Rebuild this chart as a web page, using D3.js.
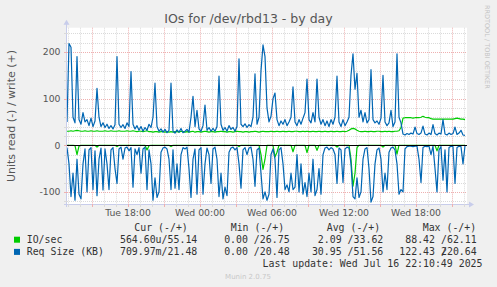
<!DOCTYPE html>
<html><head><meta charset="utf-8">
<script src="https://cdn.jsdelivr.net/npm/d3@7"></script>
<style>body{margin:0;background:#f0f0f0;}svg{display:block;}</style>
</head><body><svg id="c" width="497" height="287"></svg>
<script>
const title = "IOs for /dev/rbd13 - by day";
const yLabel = "Units read (-) / write (+)";
const startTime = new Date(2025, 6, 15, 12, 55);
const endTime = new Date(2025, 6, 16, 22, 15);
const stepMinutes = 10;
const yTicks = [-100, 0, 100, 200];
const seriesNames = ["IO/sec", "Req Size (KB)"];
const seriesColors = ["#00cc00", "#0066b3"];
const legendHeaders = ["Cur (-/+)", "Min (-/+)", "Avg (-/+)", "Max (-/+)"];
const ioStats = [["564.60u", "55.14"], ["0.00 ", "26.75"], ["2.09 ", "33.62"], ["88.42 ", "62.11"]];
const reqStats = [["709.97m", "21.48"], ["0.00 ", "20.48"], ["30.95 ", "51.56"], ["122.43 ", "220.64"]];
const lastUpdate = "Last update: Wed Jul 16 22:10:49 2025";
const footer = "Munin 2.0.75";
const watermark = "RRDTOOL / TOBI OETIKER";

// IO/sec write (+)
const ioWrite = [30,30,31,30,31,32,31,30,30,31, 30,30,31,30,30,31,30,30,30,31, 30,30,31,30,30,30,31,30,30,30,
 31,30,30,31,30,29,30,30,29,30, 31,29,29,28,29,29,28,29,29,28, 29,28,29,28,29,29,28,30,29,28,
 29,28,29,30,28,29,29,28,29,30, 29,28,29,29,28,29,29,30,29,29, 28,29,29,28,29,30,29,29,28,29,
 29,28,29,29,30,29,28,29,30,29, 29,29,30,29,29,30,29,29,30,29, 29,30,29,29,30,30,29,29,30,29,
 30,29,29,30,29,29,30,29,29,30, 29,29,30,29,29,30,29,29,30,29, 30,32,35,36,35,32,30,29,29,30,
 29,29,30,29,29,30,30,29,29,30, 29,30,29,29,30,30,31,38,58,59, 59,59,59,58,59,59,59,60,62,60,
 59,59,57,56,56,56,56,56,56,56, 56,56,56,56,57,58,57,56,56,55];
// IO/sec read (-)
const ioRead = [0,0,0,0,1,20,2,0,0,0, 0,0,0,0,0,4,0,0,0,0, 0,0,0,0,0,3,0,0,0,0,
 0,0,0,0,0,0,0,0,0,0, 10,1,0,0,0,0,0,0,0,0, 0,0,3,0,0,0,0,0,0,0,
 0,0,0,0,0,0,0,0,0,0, 0,0,0,0,0,0,0,0,0,0, 0,0,0,0,0,0,3,0,0,0,
 0,0,0,0,0,0,0,20,52,30, 0,0,0,0,25,15,0,0,0,0, 0,0,0,14,0,0,0,0,0,0,
 16,0,0,0,0,11,0,0,0,0, 0,0,0,0,0,4,0,0,0,0, 0,0,30,88,60,5,0,0,0,0,
 0,0,0,0,0,0,0,0,4,0, 0,0,0,0,0,19,0,0,0,0, 0,0,0,0,0,0,0,0,0,0,
 0,0,0,0,0,12,0,0,0,0, 0,0,0,0,0,0,0,0,0,0];
// Req Size write (+)
const reqWrite = [50,218,210,60,48,190,55,45,70,50, 55,42,58,40,52,122,60,40,48,38, 45,36,42,35,44,190,45,38,44,36,
 48,40,158,45,35,42,32,40,30,38, 32,45,38,60,133,40,30,35,28,34, 27,32,133,30,26,33,28,36,27,30,
 34,28,60,105,40,75,35,30,42,86, 32,38,30,36,30,40,148,45,32,38, 30,42,34,38,30,40,185,45,40,46,
 38,44,40,60,153,45,60,160,215,190, 80,50,62,100,112,55,42,52,45,55, 42,50,60,125,50,42,55,45,58,70,
 142,55,48,70,50,142,60,45,55,42, 52,40,55,45,60,148,50,40,55,42, 50,60,150,196,120,154,60,75,50,70,
 48,55,162,55,48,52,45,58,150,50, 42,48,75,40,50,196,60,48,24,22, 25,23,26,24,39,25,23,26,41,24,
 22,26,23,44,25,22,26,24,55,24, 22,26,23,25,39,23,26,32,22,21];
// Req Size read (-)
const reqRead = [5,40,110,60,118,30,105,115,40,8, 100,10,5,95,12,108,30,6,96,8, 40,95,10,5,50,82,8,4,30,6,
 4,12,5,90,8,20,5,60,8,4, 95,10,40,118,70,112,100,15,6,4, 8,30,95,10,92,40,95,20,5,8,
 4,50,112,30,8,105,10,5,105,40, 6,20,82,8,4,30,110,60,115,90, 108,15,6,4,10,5,40,92,10,5,
 20,6,4,30,88,10,6,60,115,100, 118,105,20,8,30,112,10,5,40,95, 85,100,60,95,90,20,100,40,105,80,
 110,60,100,30,108,95,50,105,20,6, 4,10,5,8,20,82,6,10,80,8, 4,6,40,110,115,70,112,100,30,8,
 5,50,122,110,40,10,6,30,100,60, 95,15,6,4,10,40,105,95,100,8, 3,2,2,3,2,2,30,80,5,2,
 3,2,20,2,50,100,10,3,75,10, 100,5,2,3,82,5,2,3,40,1];

const svg = d3.select("#c");
const W = 497, H = 287;
const x0 = 67, x1 = 467, yTop = 27.7, yBot = 204;
svg.append("rect").attr("width", W).attr("height", H).attr("fill", "#f0f0f0");

const x = d3.scaleTime().domain([startTime, endTime]).range([x0, x1]);
const y = d3.scaleLinear().domain([-126, 252]).range([yBot, yTop]);
const timeAt = i => new Date(startTime.getTime() + i * stepMinutes * 60000);

svg.append("rect").attr("x", x0).attr("y", yTop).attr("width", x1 - x0).attr("height", yBot - yTop).attr("fill", "#ffffff");

const g = svg.append("g");
// grid
const minorY = d3.range(-120, 241, 20).filter(v => v % 100 !== 0);
const majorY = yTicks;
const hourTicks = x.ticks(d3.timeHour.every(1));
const minorX = hourTicks.filter(d => d.getHours() % 3 !== 0);
const majorX = hourTicks.filter(d => d.getHours() % 3 === 0);
const gridMinor = "#dadada", gridMajor = "#eeb0b0";
g.selectAll(".gmy").data(minorY).join("line")
  .attr("x1", x0).attr("x2", x1).attr("y1", d => Math.round(y(d)) + 0.5).attr("y2", d => Math.round(y(d)) + 0.5)
  .attr("stroke", gridMinor).attr("stroke-dasharray", "1,1");
g.selectAll(".gmx").data(minorX).join("line")
  .attr("x1", d => Math.round(x(d)) + 0.5).attr("x2", d => Math.round(x(d)) + 0.5).attr("y1", yTop).attr("y2", yBot)
  .attr("stroke", gridMinor).attr("stroke-dasharray", "1,1");
g.selectAll(".gMy").data(majorY).join("line")
  .attr("x1", x0).attr("x2", x1).attr("y1", d => Math.round(y(d)) + 0.5).attr("y2", d => Math.round(y(d)) + 0.5)
  .attr("stroke", gridMajor).attr("stroke-dasharray", "1,1");
g.selectAll(".gMx").data(majorX).join("line")
  .attr("x1", d => Math.round(x(d)) + 0.5).attr("x2", d => Math.round(x(d)) + 0.5).attr("y1", yTop).attr("y2", yBot)
  .attr("stroke", gridMajor).attr("stroke-dasharray", "1,1");

// data lines
const line = d3.line().x((d, i) => x(timeAt(i))).y(d => y(d));
const drawSeries = [[ioRead, -1, 0], [ioWrite, 1, 0], [reqRead, -1, 1], [reqWrite, 1, 1]];
drawSeries.forEach(([arr, sign, ci]) => {
  svg.append("path").datum(arr.map(v => v * sign)).attr("d", line)
    .attr("fill", "none").attr("stroke", seriesColors[ci]).attr("stroke-width", 1.2)
    .attr("stroke-linejoin", "round");
});

// zero line
svg.append("line").attr("x1", x0).attr("x2", x1).attr("y1", Math.round(y(0)) + 0.5).attr("y2", Math.round(y(0)) + 0.5)
  .attr("stroke", "#000").attr("stroke-width", 1);

// axes
const axisCol = "#c8cdeb";
svg.append("line").attr("x1", x0 - 0.5).attr("x2", x0 - 0.5).attr("y1", yBot + 3).attr("y2", yTop - 4).attr("stroke", axisCol);
svg.append("path").attr("d", `M${x0 - 3.5},${yTop - 3} L${x0 - 0.5},${yTop - 8} L${x0 + 2.5},${yTop - 3} Z`).attr("fill", axisCol);
svg.append("line").attr("x1", x0 - 3).attr("x2", x1 + 3).attr("y1", yBot + 0.5).attr("y2", yBot + 0.5).attr("stroke", axisCol);
svg.append("path").attr("d", `M${x1 + 2},${yBot - 2.5} L${x1 + 7},${yBot + 0.5} L${x1 + 2},${yBot + 3.5} Z`).attr("fill", axisCol);
// tick marks
svg.selectAll(".tx").data(hourTicks).join("line")
  .attr("x1", d => Math.round(x(d)) + 0.5).attr("x2", d => Math.round(x(d)) + 0.5)
  .attr("y1", yBot).attr("y2", yBot + 3)
  .attr("stroke", d => d.getHours() % 3 === 0 ? gridMajor : gridMinor);
svg.selectAll(".ty").data(d3.range(-120, 241, 20)).join("line")
  .attr("x1", x0 - 3).attr("x2", x0).attr("y1", d => Math.round(y(d)) + 0.5).attr("y2", d => Math.round(y(d)) + 0.5)
  .attr("stroke", d => d % 100 === 0 ? gridMajor : gridMinor);

const sans = "'DejaVu Sans', sans-serif";
const mono = "'DejaVu Sans Mono', monospace";
const txtCol = "#333";

// y tick labels
svg.selectAll(".yl").data(yTicks).join("text")
  .attr("x", 60.5).attr("y", d => y(d) + 3.3).attr("text-anchor", "end")
  .attr("font-family", sans).attr("font-size", 9.3).attr("fill", "#555").text(d => d);
// x tick labels
const labelTicks = hourTicks.filter(d => d.getHours() % 6 === 0);
const fmt = d3.timeFormat("%a %H:%M");
svg.selectAll(".xl").data(labelTicks).join("text")
  .attr("x", d => x(d)).attr("y", 215.5).attr("text-anchor", "middle")
  .attr("font-family", sans).attr("font-size", 9.3).attr("fill", "#555").text(d => fmt(d));

// title
svg.append("text").attr("x", 248.5).attr("y", 22.5).attr("text-anchor", "middle")
  .attr("font-family", sans).attr("font-size", 12.5).attr("fill", "#555").text(title);
// y label
svg.append("text").attr("transform", `translate(15,116) rotate(-90)`).attr("text-anchor", "middle")
  .attr("font-family", sans).attr("font-size", 11).attr("fill", "#555").text(yLabel);
// watermark
svg.append("text").attr("transform", `translate(484.5,5) rotate(90)`).attr("text-anchor", "start")
  .attr("font-family", sans).attr("font-size", 6.5).attr("fill", "#c4c4c4").text(watermark);

// legend
const cw = 5.96, lfs = 9.9;
const headerX = [134.3, 230.7, 326.7, 422.7];
const colRight = [197.3, 289.6, 383.3, 476.7];
const rowY = [231, 243.2, 255.4];
headerX.forEach((hx, k) => {
  svg.append("text").attr("x", hx).attr("y", rowY[0]).attr("font-family", mono).attr("font-size", lfs)
    .attr("fill", txtCol).style("white-space", "pre").text(legendHeaders[k]);
});
[ioStats, reqStats].forEach((stats, r) => {
  const yy = rowY[r + 1];
  svg.append("rect").attr("x", 14).attr("y", yy - 6.5).attr("width", 6).attr("height", 6).attr("fill", seriesColors[r]);
  svg.append("text").attr("x", 26.7).attr("y", yy).attr("font-family", mono).attr("font-size", lfs)
    .attr("fill", txtCol).style("white-space", "pre").text(seriesNames[r]);
  stats.forEach(([rd, wr], k) => {
    const slashEnd = colRight[k] - 5 * cw;
    svg.append("text").attr("x", slashEnd).attr("y", yy).attr("text-anchor", "end").attr("font-family", mono)
      .attr("font-size", lfs).attr("fill", txtCol).style("white-space", "pre").text(rd + "/");
    svg.append("text").attr("x", colRight[k]).attr("y", yy).attr("text-anchor", "end").attr("font-family", mono)
      .attr("font-size", lfs).attr("fill", txtCol).style("white-space", "pre").text(wr);
  });
});
svg.append("text").attr("x", 482.5).attr("y", 267.3).attr("text-anchor", "end").attr("font-family", mono)
  .attr("font-size", lfs).attr("fill", txtCol).style("white-space", "pre").text(lastUpdate);
svg.append("text").attr("x", 248).attr("y", 278.6).attr("text-anchor", "middle").attr("font-family", sans)
  .attr("font-size", 7).attr("fill", "#c8c8c8").text(footer);
</script></body></html>
